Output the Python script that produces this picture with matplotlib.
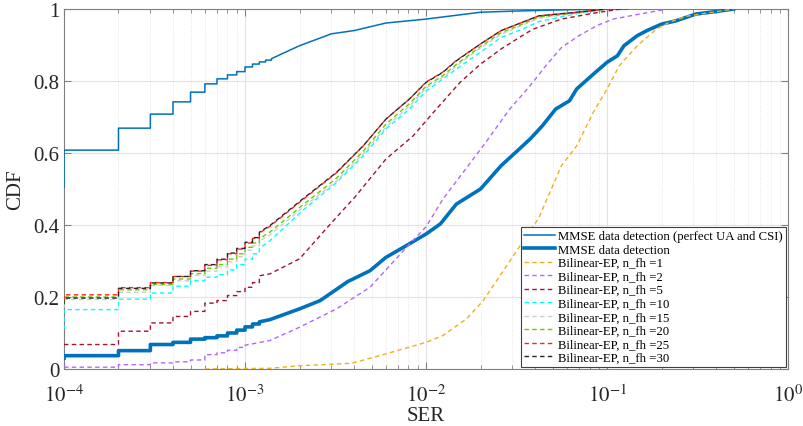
import matplotlib
matplotlib.use('Agg')
import matplotlib.pyplot as plt
from matplotlib.ticker import LogLocator, FixedLocator, NullFormatter

plt.rcParams['font.family'] = ['Liberation Serif', 'DejaVu Serif']
plt.rcParams['mathtext.fontset'] = 'stix'

# values
ser_perfect = [1e-4, 1e-4, 2e-4, 3e-4, 4e-4, 5e-4, 6e-4, 7e-4, 8e-4, 9e-4, 1e-3, 1.1e-3, 1.2e-3,
               1.3e-3, 1.4e-3, 2e-3, 3e-3, 4e-3, 6e-3, 1e-2, 2e-2, 3e-2, 5e-2, 0.1, 0.13]
cdf_perfect = [0.505, 0.608, 0.669, 0.708, 0.742, 0.769, 0.792, 0.806, 0.817, 0.826, 0.839, 0.847, 0.853,
               0.858, 0.862, 0.898, 0.931, 0.94, 0.961, 0.972, 0.991, 0.994, 0.997, 1.0, 1.0]

ser_mmse = [1e-4, 1e-4, 2e-4, 3e-4, 4e-4, 5e-4, 6e-4, 7e-4, 8e-4, 9e-4, 1e-3, 1.1e-3, 1.2e-3,
            1.37e-3, 2e-3, 2.6e-3, 3.7e-3, 4.9e-3, 6e-3, 7.8e-3, 1e-2, 1.2e-2, 1.47e-2, 2e-2,
            2.6e-2, 3.1e-2, 3.76e-2, 4.4e-2, 5.2e-2, 6.2e-2, 6.8e-2, 8.4e-2, 0.1, 0.114, 0.124,
            0.147, 0.166, 0.2, 0.24, 0.31, 0.4, 0.5]
cdf_mmse = [0.03, 0.037, 0.051, 0.068, 0.074, 0.083, 0.087, 0.092, 0.1, 0.108, 0.117, 0.125, 0.131,
            0.137, 0.167, 0.19, 0.243, 0.273, 0.31, 0.343, 0.375, 0.403, 0.458, 0.5,
            0.565, 0.6, 0.639, 0.676, 0.722, 0.745, 0.778, 0.819, 0.852, 0.87, 0.898,
            0.926, 0.94, 0.958, 0.967, 0.986, 0.993, 1.0]

ser_fh1 = [6e-4, 1.37e-3, 2e-3, 3.9e-3, 6e-3, 1e-2, 1.24e-2, 1.67e-2, 2.07e-2, 2.6e-2, 3.6e-2,
           4.2e-2, 5.6e-2, 6.8e-2, 8.4e-2, 0.1, 0.117, 0.147, 0.187, 0.22, 0.276, 0.37, 0.5]
cdf_fh1 = [0.0, 0.002, 0.009, 0.016, 0.042, 0.074, 0.093, 0.139, 0.19, 0.264, 0.37,
           0.42, 0.565, 0.62, 0.713, 0.778, 0.843, 0.898, 0.944, 0.963, 0.98, 0.99, 1.0]

ser_fh2 = [1e-4, 2e-4, 3e-4, 4e-4, 5e-4, 6e-4, 7e-4, 8e-4, 9e-4, 1e-3, 1.37e-3, 2e-3, 3.2e-3,
           4.9e-3, 7.8e-3, 1e-2, 1.24e-2, 2.07e-2, 2.9e-2, 3.76e-2, 4.6e-2, 5.6e-2, 7e-2, 8.8e-2,
           0.108, 0.152, 0.215]
cdf_fh2 = [0.005, 0.012, 0.017, 0.02, 0.025, 0.04, 0.045, 0.052, 0.06, 0.066, 0.079, 0.116, 0.167,
           0.227, 0.338, 0.395, 0.472, 0.62, 0.722, 0.787, 0.843, 0.893, 0.926, 0.954,
           0.972, 0.986, 1.0]

ser_fh5 = [1e-4, 2e-4, 3e-4, 4e-4, 5e-4, 6e-4, 7e-4, 8e-4, 9e-4, 1e-3, 1.1e-3, 1.2e-3,
           1.37e-3, 2e-3, 2.8e-3, 4.1e-3, 6e-3, 8.5e-3, 1.14e-2, 1.54e-2, 2e-2, 2.6e-2, 3.4e-2,
           3.9e-2, 5.6e-2, 8.8e-2, 0.12]
cdf_fh5 = [0.068, 0.105, 0.128, 0.146, 0.16, 0.183, 0.19, 0.204, 0.215, 0.227, 0.24, 0.259,
           0.264, 0.306, 0.389, 0.481, 0.583, 0.648, 0.722, 0.796, 0.847, 0.889, 0.926,
           0.944, 0.972, 0.99, 1.0]

# shared SER grid for n_fh = 10 ... 30
ser_top = [1e-4, 1e-4, 2e-4, 3e-4, 4e-4, 5e-4, 6e-4, 7e-4, 8e-4, 9e-4, 1e-3, 1.1e-3, 1.2e-3, 1.37e-3,
           2.08e-3, 3.2e-3, 4.5e-3, 6e-3, 8.1e-3, 1e-2, 1.24e-2, 1.47e-2, 2e-2, 2.6e-2, 3.4e-2,
           4.2e-2, 6.5e-2, 0.1]
cdf_fh10 = [0.11, 0.165, 0.194, 0.211, 0.23, 0.245, 0.255, 0.262, 0.275, 0.29, 0.305, 0.32, 0.335, 0.356,
            0.44, 0.518, 0.592, 0.667, 0.722, 0.772, 0.806, 0.833, 0.88, 0.921, 0.944,
            0.965, 0.985, 1.0]
cdf_fh15 = [0.17, 0.193, 0.213, 0.232, 0.245, 0.26, 0.272, 0.284, 0.298, 0.312, 0.33, 0.342, 0.355, 0.372,
            0.448, 0.522, 0.598, 0.672, 0.73, 0.78, 0.81, 0.842, 0.892, 0.93, 0.955,
            0.975, 0.987, 1.0]
cdf_fh20 = [0.18, 0.2, 0.22, 0.235, 0.25, 0.265, 0.28, 0.29, 0.305, 0.32, 0.338, 0.35, 0.362, 0.38,
            0.455, 0.53, 0.605, 0.68, 0.737, 0.785, 0.815, 0.846, 0.896, 0.934, 0.958,
            0.978, 0.988, 1.0]
cdf_fh25 = [0.19, 0.206, 0.226, 0.24, 0.257, 0.272, 0.288, 0.303, 0.32, 0.333, 0.35, 0.363, 0.378, 0.396,
            0.47, 0.545, 0.62, 0.694, 0.75, 0.797, 0.825, 0.857, 0.903, 0.94, 0.963,
            0.981, 0.99, 1.0]
cdf_fh30 = [0.18, 0.197, 0.224, 0.239, 0.257, 0.273, 0.29, 0.305, 0.322, 0.335, 0.352, 0.365, 0.38, 0.398,
            0.472, 0.546, 0.62, 0.694, 0.75, 0.796, 0.824, 0.856, 0.903, 0.94, 0.963,
            0.981, 0.99, 1.0]

x_ticks = [1e-4, 1e-3, 1e-2, 1e-1, 1e0]
x_ticklabels = ['$10^{-4}$', '$10^{-3}$', '$10^{-2}$', '$10^{-1}$', '$10^{0}$']
y_ticks = [0, 0.2, 0.4, 0.6, 0.8, 1]
y_ticklabels = ['0', '0.2', '0.4', '0.6', '0.8', '1']


def stairs(x, y, knee=1.25e-3):
    # staircase look for the discrete low-SER part, plain line after it
    xs, ys = [x[0]], [y[0]]
    for i in range(1, len(x)):
        if x[i] <= knee:
            xs.append(x[i])
            ys.append(y[i - 1])
        xs.append(x[i])
        ys.append(y[i])
    return xs, ys


fig = plt.figure(figsize=(8.04, 4.27), dpi=100)
ax = fig.add_axes([0.0796, 0.1335, 0.9006, 0.8431])

dash = (3.2, 2.4)
ax.plot(*stairs(ser_perfect, cdf_perfect, knee=1.45e-3), color='#0072BD', lw=1.1, zorder=3,
        label='MMSE data detection (perfect UA and CSI)')
ax.plot(*stairs(ser_mmse, cdf_mmse), color='#0072BD', lw=2.6, zorder=3, label='MMSE data detection')
series = [(ser_fh1, cdf_fh1, '#EDB120', 1), (ser_fh2, cdf_fh2, '#B266FF', 2),
          (ser_fh5, cdf_fh5, '#A2142F', 5), (ser_top, cdf_fh10, '#00FFFF', 10),
          (ser_top, cdf_fh15, '#CCCCCC', 15), (ser_top, cdf_fh20, '#66CC00', 20),
          (ser_top, cdf_fh25, '#FF2020', 25), (ser_top, cdf_fh30, '#262626', 30)]
for sx, sy, c, n in series:
    ax.plot(*stairs(sx, sy), color=c, lw=1.0, dashes=dash, zorder=3,
            label='Bilinear-EP, n_fh =%d' % n)

ax.set_xscale('log')
ax.set_xlim(1e-4, 1)
ax.set_ylim(0, 1)
ax.xaxis.set_major_locator(FixedLocator(x_ticks))
ax.set_xticklabels(x_ticklabels)
ax.xaxis.set_minor_locator(LogLocator(base=10, subs=range(2, 10)))
ax.xaxis.set_minor_formatter(NullFormatter())
ax.set_yticks(y_ticks)
ax.set_yticklabels(y_ticklabels)

ax.grid(True, which='major', color='#E3E3E3', lw=0.8)
ax.grid(True, which='minor', axis='x', color='#E3E3E3', lw=0.7, ls=':')
ax.set_axisbelow(True)
for s in ax.spines.values():
    s.set_color('#808080')
    s.set_linewidth(0.8)
ax.tick_params(which='both', direction='in', top=True, right=True, colors='#808080',
               labelcolor='#262626', labelsize=15)
ax.tick_params(which='major', length=5)
ax.tick_params(which='minor', length=3)
ax.tick_params(axis='x', pad=11)

ax.set_xlabel('SER', fontsize=15, color='#262626', labelpad=0)
ax.set_ylabel('CDF', fontsize=15, color='#262626', labelpad=6)

leg = ax.legend(loc='lower right', fontsize=9.2, handlelength=2.4, handletextpad=0.3,
                labelspacing=0.12, borderpad=0.25, borderaxespad=0.15, fancybox=False,
                framealpha=1, edgecolor='#404040')
leg.set_zorder(5)
leg.get_frame().set_linewidth(0.8)

fig.savefig('out.png', dpi=100)
